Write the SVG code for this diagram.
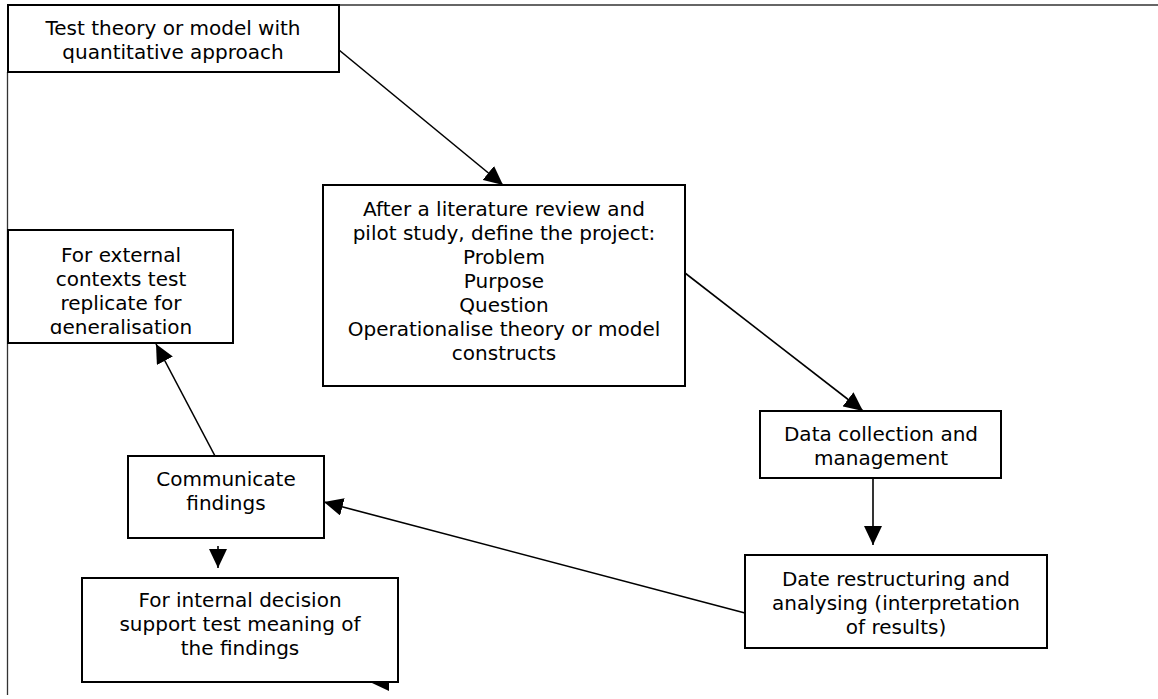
<svg xmlns="http://www.w3.org/2000/svg" width="1158" height="699" viewBox="0 0 1158 699">
<style>
.box{fill:#fff;stroke:#000;stroke-width:2}
.t{font-family:"DejaVu Sans","Verdana",sans-serif;font-size:20px;fill:#000;text-anchor:middle}
.frame{stroke:#333;stroke-width:1.3;fill:none}
.conn line{stroke:#000;stroke-width:1.6}
</style>
<defs>
<marker id="ah" markerUnits="userSpaceOnUse" markerWidth="19" markerHeight="18" refX="19" refY="9" orient="auto">
<path d="M0,0 L19,9 L0,18 z" fill="#000"/>
</marker>
<clipPath id="c3"><rect x="8" y="230" width="225" height="104"/></clipPath>
</defs>
<rect width="1158" height="699" fill="#fff"/>
<g id="frame">
<line class="frame" x1="339" y1="5" x2="1158" y2="5"/>
<line class="frame" x1="7.5" y1="72" x2="7.5" y2="695"/>
</g>
<g id="n1">
<rect class="box" x="8" y="5" width="331" height="67"/>
<text class="t" x="173" y="35">Test theory or model with</text>
<text class="t" x="173" y="59">quantitative approach</text>
</g>
<g id="n2">
<rect class="box" x="323" y="185" width="362" height="201"/>
<text class="t" x="504" y="216">After a literature review and</text>
<text class="t" x="504" y="240">pilot study, define the project:</text>
<text class="t" x="504" y="264">Problem</text>
<text class="t" x="504" y="288">Purpose</text>
<text class="t" x="504" y="312">Question</text>
<text class="t" x="504" y="336">Operationalise theory or model</text>
<text class="t" x="504" y="360">constructs</text>
</g>
<g id="n3">
<rect class="box" x="8" y="230" width="225" height="113"/>
<g clip-path="url(#c3)">
<text class="t" x="121" y="262">For external</text>
<text class="t" x="121" y="286">contexts test</text>
<text class="t" x="121" y="310">replicate for</text>
<text class="t" x="121" y="334">generalisation</text>
</g>
</g>
<g id="n4">
<rect class="box" x="760" y="411" width="241" height="67"/>
<text class="t" x="881" y="441">Data collection and</text>
<text class="t" x="881" y="465">management</text>
</g>
<g id="n5">
<rect class="box" x="128" y="456" width="196" height="82"/>
<text class="t" x="226" y="486">Communicate</text>
<text class="t" x="226" y="510">findings</text>
</g>
<g id="n6">
<rect class="box" x="745" y="555" width="302" height="93"/>
<text class="t" x="896" y="586">Date restructuring and</text>
<text class="t" x="896" y="610">analysing (interpretation</text>
<text class="t" x="896" y="634">of results)</text>
</g>
<g id="n7">
<rect class="box" x="82" y="578" width="316" height="104"/>
<text class="t" x="240" y="607">For internal decision</text>
<text class="t" x="240" y="631">support test meaning of</text>
<text class="t" x="240" y="655">the findings</text>
</g>
<g id="connectors" class="conn">
<line x1="339" y1="50" x2="503" y2="185" marker-end="url(#ah)"/>
<line x1="685" y1="273" x2="863" y2="411" marker-end="url(#ah)"/>
<line x1="873" y1="478" x2="873" y2="545" marker-end="url(#ah)"/>
<line x1="745" y1="613" x2="324" y2="502" marker-end="url(#ah)"/>
<line x1="215" y1="456" x2="156" y2="344" marker-end="url(#ah)"/>
<line x1="218" y1="546" x2="218" y2="568" marker-end="url(#ah)"/>
<polygon points="372,683 389,683 389,691" fill="#000"/>
</g>
</svg>
